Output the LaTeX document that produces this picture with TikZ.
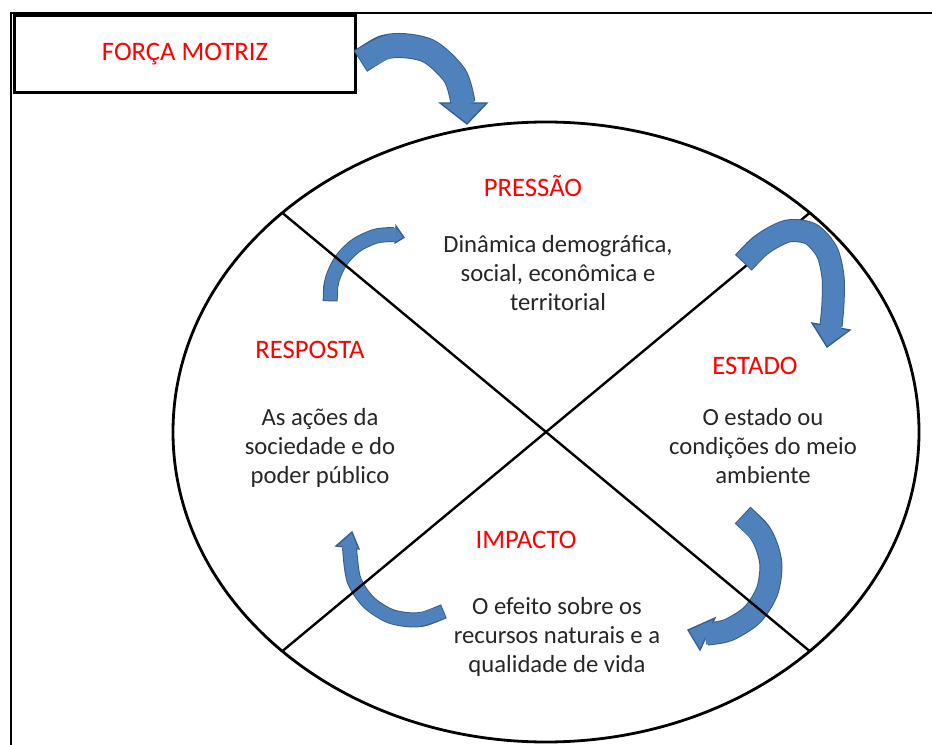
\documentclass[tikz,border=0pt]{standalone}
\usepackage{fontspec}
\setmainfont{Carlito}
\usetikzlibrary{calc}
\definecolor{ArrowBlue}{HTML}{4F81BD}
\definecolor{ArrowEdge}{HTML}{385D8A}
\definecolor{LabelRed}{HTML}{FF0000}
\definecolor{BodyGrey}{HTML}{262626}
\tikzset{
  motrizbox/.style={draw, line width=2.3pt, minimum width=256pt, minimum height=58pt,
    text=LabelRed, font=\fontsize{20}{24}\selectfont},
  stage/.style={text=LabelRed, font=\fontsize{20}{24}\selectfont},
  stagetext/.style={text=BodyGrey, align=center, font=\fontsize{18.5}{21.8}\selectfont},
  arrowedge/.style={draw=ArrowEdge, line cap=butt},
  arrowbody/.style={draw=ArrowBlue, line cap=butt},
  arrowhead/.style={fill=ArrowBlue, draw=ArrowEdge, line width=1pt, line join=miter}
}
% centre line, width, head corner, tip, head corner
\newcommand{\bentarrow}[5]{%
  \draw[arrowedge, line width=#2+1.5pt, shorten <=-0.75pt] plot[smooth] coordinates {#1};
  \filldraw[arrowhead] #3 -- #4 -- #5 -- cycle;
  \draw[arrowbody, line width=#2, shorten >=-1.5pt] plot[smooth] coordinates {#1};
}

\begin{document}
\begin{tikzpicture}[x=0.75pt,y=-0.75pt]
  \useasboundingbox (0,0) rectangle (932,745);
  \draw[line width=1.3pt] (11,747) -- (11,13) -- (934,13);
  \node[motrizbox] (motriz) at (185,54) {FORÇA MOTRIZ};

  \coordinate (mid) at (546,432);
  \draw[line width=2.1pt] (mid) ellipse [x radius=373, y radius=310];
  \coordinate (nw) at ($(mid)+(225:373 and 310)$);
  \coordinate (ne) at ($(mid)+(315:373 and 310)$);
  \coordinate (sw) at ($(mid)+(135:373 and 310)$);
  \coordinate (se) at ($(mid)+(45:373 and 310)$);

  % arrows lying under the diagonals
  \bentarrow{(743.3,515.8) (762.3,536.5) (770.8,563.3) (767.1,591.2) (752,615) (728.2,630.1) (707.1,634)}{15.75pt}{(715,618)}{(688,630)}{(700,650)}
  \bentarrow{(443,611.7) (417.4,619.8) (390.8,616.3) (368.2,601.8) (353.7,579.2) (349.5,547.2)}{9.75pt}{(336,546)}{(352,532)}{(359,549)}
  \bentarrow{(330.2,300.3) (332.1,280) (341.2,260.4) (356.4,245.2) (376,236.1) (394.2,234.5)}{9.75pt}{(396,226)}{(404,237.5)}{(395,243)}

  \draw[line width=1.8pt] (nw) -- (se);
  \draw[line width=1.8pt] (ne) -- (sw);

  % arrows lying over them
  \bentarrow{(361.2,60.7) (391.4,45.9) (427.8,50.7) (454.8,75.5) (463,102.8)}{17.25pt}{(440,103)}{(467,124)}{(487,103)}
  \bentarrow{(744,262) (764,243) (788,231) (811,234) (827,252) (833,277) (833,303) (831,326)}{15.75pt}{(812,323)}{(827,347)}{(850,330)}

  \node[stage] (pressao) at (533,186) {PRESSÃO};
  \node[stagetext] (pressaotxt) at (558,273) {Dinâmica demográfica,\\ social, econômica e\\ territorial};
  \node[stage] (estado) at (755,366) {ESTADO};
  \node[stagetext] (estadotxt) at (763,446) {O estado ou\\ condições do meio\\ ambiente};
  \node[stage] (impacto) at (526,540) {IMPACTO};
  \node[stagetext] (impactotxt) at (557,637) {O efeito sobre os\\ recursos naturais e a\\ qualidade de vida};
  \node[stage] (resposta) at (310,350) {RESPOSTA};
  \node[stagetext] (respostatxt) at (320,448) {As ações da\\ sociedade e do\\ poder público};
\end{tikzpicture}
\end{document}
